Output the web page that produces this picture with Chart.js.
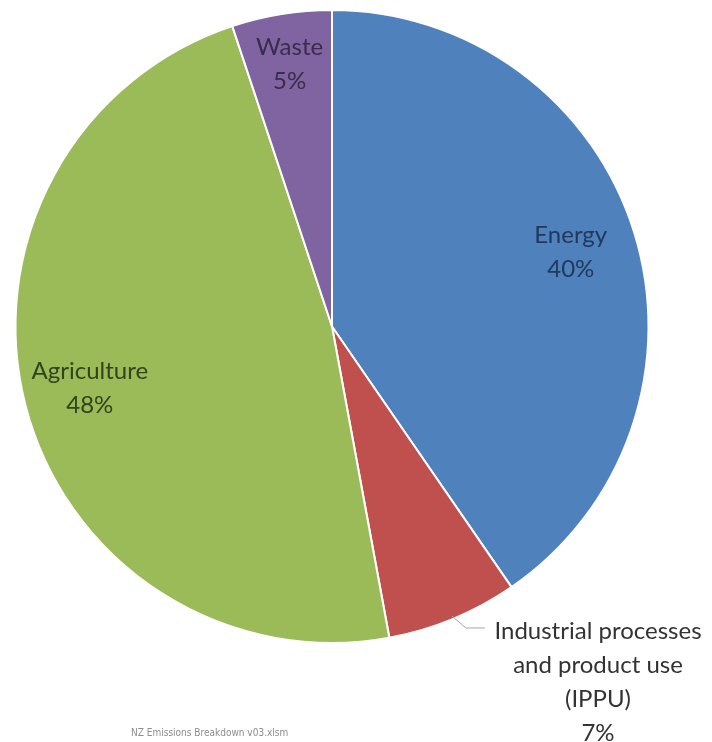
<!DOCTYPE html>
<html>
<head>
<meta charset="utf-8">
<script src="https://cdn.jsdelivr.net/npm/chart.js@4/dist/chart.umd.min.js"></script>
<style>
  html, body { margin: 0; padding: 0; background: #fff; }
  #wrap { position: relative; width: 712px; height: 742px; }
</style>
</head>
<body>
<div id="wrap"><canvas id="pie" width="712" height="742"></canvas></div>
<script>
// NZ emissions breakdown by sector (share of gross emissions, %)
const sectors = ['Energy', 'Industrial processes and product use (IPPU)', 'Agriculture', 'Waste'];
const labelLines = [['Energy'], ['Industrial processes', 'and product use', '(IPPU)'], ['Agriculture'], ['Waste']];
const shares = [40.4, 6.7, 47.8, 5.1];
const shownPct = ['40%', '7%', '48%', '5%'];
const sliceColors = ['#4f81bd', '#c0504d', '#9bbb59', '#8064a2'];
const textColors = ['#22395a', '#333333', '#33431d', '#3a2b4d'];

const sliceLabels = {
  id: 'sliceLabels',
  afterDatasetsDraw(chart) {
    const ctx = chart.ctx;
    const arcs = chart.getDatasetMeta(0).data;
    ctx.save();
    ctx.font = '24px Lato, "Open Sans", sans-serif';
    ctx.textAlign = 'center';
    ctx.textBaseline = 'middle';
    arcs.forEach((arc, i) => {
      const p = arc.getProps(['x', 'y', 'startAngle', 'endAngle', 'outerRadius']);
      const mid = (p.startAngle + p.endAngle) / 2;
      const lines = labelLines[i].concat([shownPct[i]]);
      if (i === 1) {
        // outside label with leader line
        const ex = p.x + Math.cos(mid) * p.outerRadius * 0.99;
        const ey = p.y + Math.sin(mid) * p.outerRadius * 0.99;
        ctx.strokeStyle = '#a6a6a6';
        ctx.lineWidth = 1;
        ctx.beginPath();
        ctx.moveTo(ex, ey);
        ctx.lineTo(ex + 14, ey + 12);
        ctx.lineTo(ex + 33, ey + 12);
        ctx.stroke();
        ctx.fillStyle = textColors[i];
        lines.forEach((t, k) => ctx.fillText(t, 598, 631 + k * 34));
        return;
      }
      const f = i === 3 ? 0.84 : 0.79;
      const cx = p.x + Math.cos(mid) * p.outerRadius * f;
      const cy = p.y + Math.sin(mid) * p.outerRadius * f;
      ctx.fillStyle = textColors[i];
      lines.forEach((t, k) => ctx.fillText(t, cx, cy + (k - (lines.length - 1) / 2) * 34));
    });
    // file name footer
    ctx.font = '10px "DejaVu Sans Condensed", "Liberation Sans Narrow", sans-serif';
    ctx.textAlign = 'left';
    ctx.fillStyle = '#8c8c8c';
    ctx.fillText('NZ Emissions Breakdown v03.xlsm', 131, 733);
    ctx.restore();
  }
};

new Chart(document.getElementById('pie').getContext('2d'), {
  type: 'pie',
  data: {
    labels: sectors,
    datasets: [{
      data: shares,
      backgroundColor: sliceColors,
      borderColor: '#ffffff',
      borderWidth: 2
    }]
  },
  options: {
    responsive: false,
    animation: false,
    layout: { padding: { left: 12, right: 60, top: 9, bottom: 98 } },
    plugins: { legend: { display: false }, tooltip: { enabled: false } }
  },
  plugins: [sliceLabels]
});
</script>
</body>
</html>
